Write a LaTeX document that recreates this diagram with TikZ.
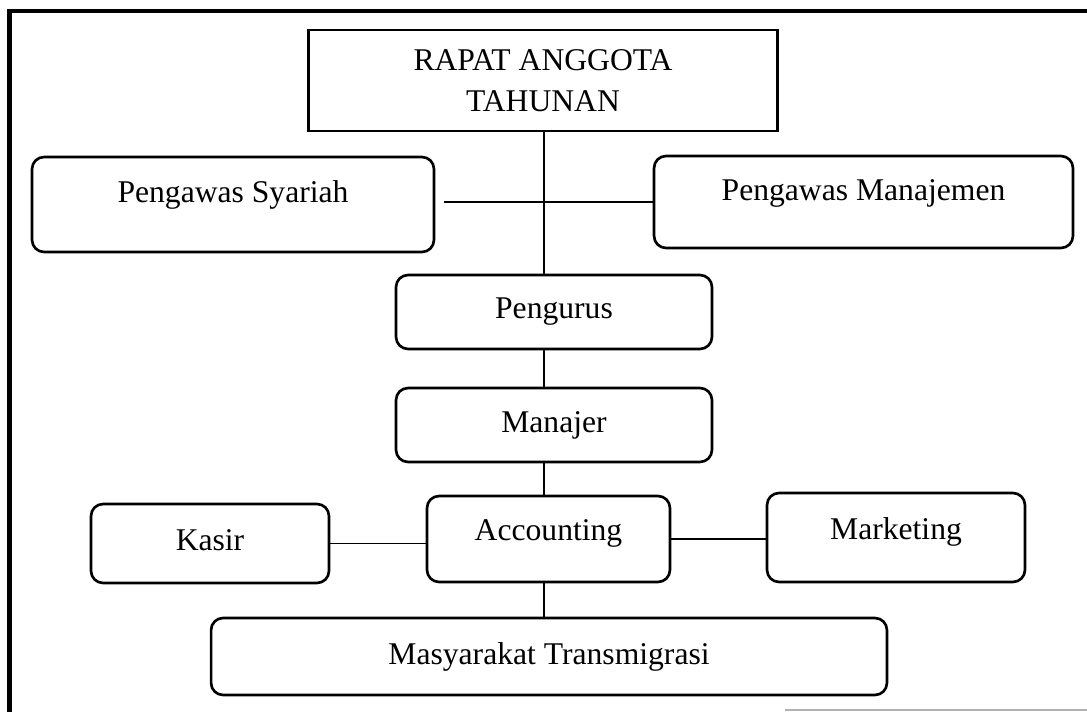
\documentclass[tikz,border=0pt]{standalone}
\usepackage{fontspec}
\setmainfont{Liberation Serif}

\begin{document}
\begin{tikzpicture}[
  x=0.02cm, y=-0.02cm,
  every node/.style={draw, line width=1.5pt, align=center, inner sep=0pt, font=\fontsize{18}{23}\selectfont},
  unit/.style={rounded corners=0.24cm},
  raised/.style={text depth=#1},
  link/.style={draw, line width=1.1pt}
]
\useasboundingbox (0,0) rectangle (1087,712);
% outer frame
\draw[line width=2.6pt] (9.5,712) -- (9.5,11) -- (1087,11);
\draw[gray!60, line width=1pt] (785,710) -- (1087,710);

\node[minimum width=9.38cm, minimum height=2.02cm] (rapat) at (543,80.5) {RAPAT ANGGOTA\\TAHUNAN};
\node[unit, raised=14.5pt, minimum width=8.04cm, minimum height=1.9cm] (syariah) at (233,204.5) {Pengawas Syariah};
\node[unit, raised=14pt, minimum width=8.38cm, minimum height=1.84cm] (manajemen) at (863.5,202) {Pengawas Manajemen};
\node[unit, minimum width=6.32cm, minimum height=1.48cm] (pengurus) at (554,312) {Pengurus};
\node[unit, minimum width=6.32cm, minimum height=1.48cm] (manajer) at (554,425) {Manajer};
\node[unit, raised=4pt, minimum width=4.76cm, minimum height=1.58cm] (kasir) at (210,543.5) {Kasir};
\node[unit, raised=10.7pt, minimum width=4.86cm, minimum height=1.72cm] (accounting) at (548.5,539) {Accounting};
\node[unit, raised=10.5pt, minimum width=5.16cm, minimum height=1.78cm] (marketing) at (896,537.5) {Marketing};
\node[unit, minimum width=13.52cm, minimum height=1.54cm] (masyarakat) at (549,656.5) {Masyarakat Transmigrasi};

% connectors
\coordinate (spine) at (544,0);
\draw[link] (rapat.south -| spine) -- (pengurus.north -| spine);
\draw[link, shorten <=0.18cm] (syariah.east |- manajemen.west) -- (manajemen.west);
\draw[link] (pengurus.south -| spine) -- (manajer.north -| spine);
\draw[link] (manajer.south -| spine) -- (accounting.north -| spine);
\draw[link] (kasir.east) -- (kasir.east -| accounting.west);
\draw[link] (accounting.east) -- (accounting.east -| marketing.west);
\draw[link] (accounting.south -| spine) -- (masyarakat.north -| spine);
\end{tikzpicture}
\end{document}
